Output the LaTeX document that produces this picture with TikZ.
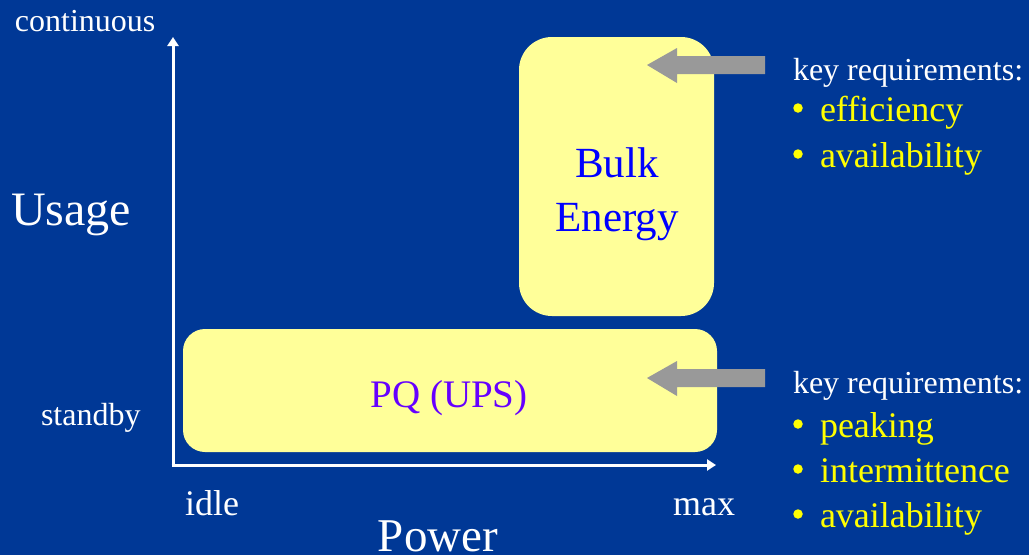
\documentclass[tikz,border=0pt]{standalone}
\usepackage{fontspec}
\setmainfont{Liberation Serif}
\usetikzlibrary{arrows.meta}
\definecolor{bgblue}{RGB}{0,56,150}
\definecolor{boxyellow}{RGB}{255,255,153}
\definecolor{arrowgray}{RGB}{153,153,153}
\definecolor{reqyellow}{RGB}{255,255,0}
\definecolor{pqpurple}{RGB}{102,0,255}
\newcommand{\fs}[1]{\fontsize{#1}{#1}\selectfont}
\tikzset{
  lbl/.style={inner sep=0pt, outer sep=0pt, text=white},
  bul/.style={inner sep=0pt, outer sep=0pt, text=reqyellow, anchor=base west, font=\fs{36}},
  dotmark/.style={circle, fill=reqyellow, inner sep=0pt, minimum size=9.5pt},
  req/.style={inner sep=0pt, outer sep=0pt, text=white, anchor=base west, font=\fs{32}},
  axis/.style={draw=white, line width=3pt, -{Triangle[width=11pt,length=9pt]}},
  region/.style={fill=boxyellow, draw=none},
  bigarrow/.style={fill=arrowgray, draw=none}
}
\begin{document}
\begin{tikzpicture}[x=1pt,y=-1pt]
\fill[bgblue] (0,0) rectangle (1029,555);
\useasboundingbox (0,0) rectangle (1029,555);
% boxes
\fill[region, rounded corners=33pt] (519,37) rectangle (714,316);
\fill[region, rounded corners=22pt] (183,329) rectangle (717,452);
\node[inner sep=0pt, text=blue, font=\fs{43}, anchor=base] (bulk) at (617,177) {Bulk};
\node[inner sep=0pt, text=blue, font=\fs{43}, anchor=base] (energy) at (617,231) {Energy};
\node[inner sep=0pt, text=pqpurple, font=\fs{39}, anchor=base] (pq) at (449,407) {PQ (UPS)};
% axes
\coordinate (origin) at (173,465);
\coordinate (ytip) at (173,37);
\coordinate (xtip) at (716,465);
\draw[axis] ([yshift=1.5pt]origin) -- (ytip);
\draw[axis] ([xshift=-1.5pt]origin) -- (xtip);
% axis labels
\node[lbl, anchor=base west, font=\fs{32}] (cont) at (15,31) {continuous};
\node[lbl, anchor=base west, font=\fs{48}] (usage) at (11,225) {Usage};
\node[lbl, anchor=base west, font=\fs{32}] (standby) at (41,425) {standby};
\node[lbl, anchor=base west, font=\fs{36}] (idle) at (185,515) {idle};
\node[lbl, anchor=base east, font=\fs{36}] (max) at (735,515) {max};
\node[lbl, anchor=base, font=\fs{47}] (power) at (438,551) {Power};
% gray arrows
\fill[bigarrow] (765,56) -- (677,56) -- (677,48) -- (647,65) -- (677,83) -- (677,74) -- (765,74) -- cycle;
\fill[bigarrow] (765,369) -- (677,369) -- (677,361) -- (647,378) -- (677,396) -- (677,387) -- (765,387) -- cycle;
% requirements top
\node[req] (req1) at (793,80) {key requirements:};
\node[dotmark] (d1) at (798,108) {};
\node[bul] (b1) at (820,121) {efficiency};
\node[dotmark] (d2) at (798,154) {};
\node[bul] (b2) at (820,167) {availability};
% requirements bottom
\node[req] (req2) at (793,393) {key requirements:};
\node[dotmark] (d3) at (798,424) {};
\node[bul] (b3) at (820,437) {peaking};
\node[dotmark] (d4) at (798,469) {};
\node[bul] (b4) at (820,482) {intermittence};
\node[dotmark] (d5) at (798,514) {};
\node[bul] (b5) at (820,527) {availability};
\end{tikzpicture}
\end{document}
